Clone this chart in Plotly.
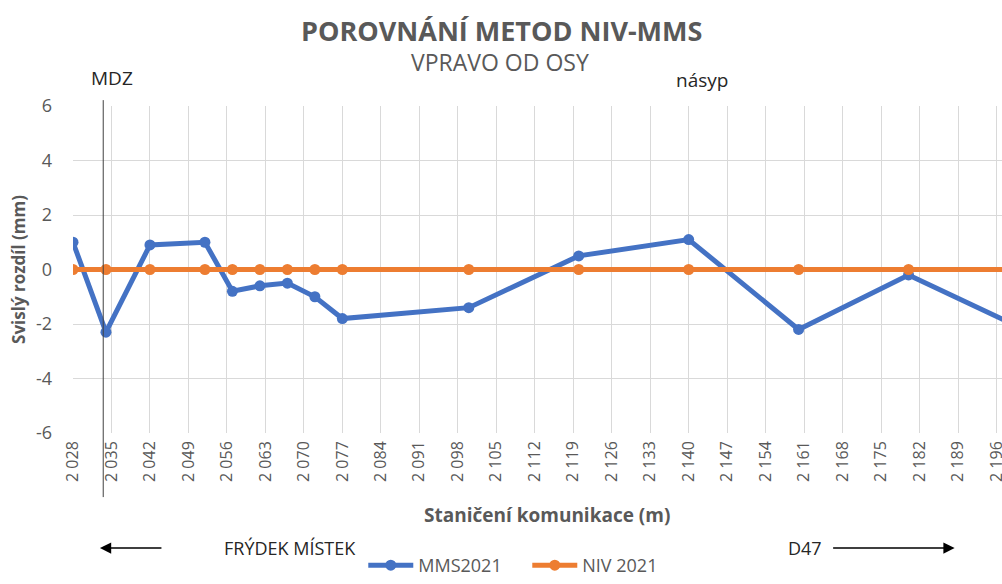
import plotly.graph_objects as go

# stanice (m) a svisle rozdily (mm)
stations = [2028, 2034, 2042, 2052, 2057, 2062, 2067, 2072, 2077, 2100, 2120, 2140, 2160, 2180, 2200]
mms_2021 = [1.0, -2.3, 0.9, 1.0, -0.8, -0.6, -0.5, -1.0, -1.8, -1.4, 0.5, 1.1, -2.2, -0.2, -2.1]
niv_2021 = [0, 0, 0, 0, 0, 0, 0, 0, 0, 0, 0, 0, 0, 0, 0]

mdz_station = 2033.5
x_start, x_end, x_step = 2028, 2197, 7
y_ticks = [-6, -4, -2, 0, 2, 4, 6]
y_tick_labels = ["-6", "-4", "-2", "0", "2", "4", "6"]

grey = "#595959"
dark = "#262626"
font = "Open Sans"

fig = go.Figure()
fig.add_trace(go.Scatter(
    x=stations, y=mms_2021, name="MMS2021", mode="lines+markers",
    line=dict(color="#4472C4", width=5), marker=dict(size=11, color="#4472C4")))
fig.add_trace(go.Scatter(
    x=stations, y=niv_2021, name="NIV 2021", mode="lines+markers",
    line=dict(color="#ED7D31", width=5), marker=dict(size=11, color="#ED7D31")))

fig.update_layout(
    width=1002, height=584,
    margin=dict(l=73, r=0, t=106, b=151),
    plot_bgcolor="white", paper_bgcolor="white",
    separators=", ",
    font=dict(family=font, color=grey),
    showlegend=True,
    legend=dict(orientation="h", x=0.489, xanchor="center", y=-0.4618, yanchor="bottom",
                font=dict(size=18, color=grey), tracegroupgap=0,
                itemwidth=45, entrywidth=104),
)

fig.update_xaxes(
    range=[x_start, x_end], tickmode="linear", tick0=x_start, dtick=x_step,
    separatethousands=True, tickangle=-90, automargin=False,
    showgrid=True, gridcolor="#D9D9D9", gridwidth=1, zeroline=False,
    showline=False, ticks="", tickfont=dict(size=16, color=grey),
    ticklabelstandoff=4, ticklabeloverflow="allow")
fig.update_yaxes(
    range=[-6, 6], tickvals=y_ticks, ticktext=y_tick_labels, automargin=False,
    showgrid=True, gridcolor="#D9D9D9", gridwidth=1, zeroline=False,
    showline=False, ticks="", tickfont=dict(size=18, color=grey),
    ticklabelstandoff=20,
    title=dict(text="<b>Svislý rozdíl (mm)</b>", font=dict(size=17, color=grey), standoff=5))

# nadpisy
fig.add_annotation(text="<b>POROVNÁNÍ METOD NIV-MMS</b>", xref="paper", yref="paper",
                   x=0.461, y=1.232, xanchor="center", yanchor="middle",
                   showarrow=False, font=dict(size=27, color=grey))
fig.add_annotation(text="VPRAVO OD OSY", xref="paper", yref="paper",
                   x=0.4596, y=1.135, xanchor="center", yanchor="middle",
                   showarrow=False, font=dict(size=23, color=grey))

# svisla cara MDZ
fig.add_shape(type="line", xref="x", yref="paper", x0=mdz_station, x1=mdz_station,
              y0=-0.196, y1=1.018, line=dict(color="#404040", width=1))

fig.add_annotation(text="MDZ", xref="x", yref="paper", x=2035.1, y=1.086,
                   xanchor="center", yanchor="middle",
                   showarrow=False, font=dict(size=19, color=dark))
fig.add_annotation(text="násyp", xref="x", yref="paper", x=2142.5, y=1.08,
                   xanchor="center", yanchor="middle",
                   showarrow=False, font=dict(size=19, color=dark))
fig.add_annotation(text="<b>Staničení komunikace (m)</b>", xref="paper", yref="paper",
                   x=0.510, y=-0.251, xanchor="center", yanchor="middle",
                   showarrow=False, font=dict(size=19, color=grey))

# smer: Frydek-Mistek <- -> D47
fig.add_annotation(text="", xref="paper", yref="paper", x=0.029, y=-0.352,
                   ax=63, ay=0, showarrow=True, arrowhead=2, arrowsize=1.5,
                   arrowwidth=1.5, arrowcolor="#000000")
fig.add_annotation(text="FRÝDEK MÍSTEK", xref="paper", yref="paper", x=0.2336, y=-0.352,
                   xanchor="center", yanchor="middle",
                   showarrow=False, font=dict(size=18, color=dark))
fig.add_annotation(text="", xref="paper", yref="paper", x=0.949, y=-0.352,
                   ax=-123, ay=0, showarrow=True, arrowhead=2, arrowsize=1.5,
                   arrowwidth=1.5, arrowcolor="#000000")
fig.add_annotation(text="D47", xref="paper", yref="paper", x=0.788, y=-0.352,
                   xanchor="center", yanchor="middle",
                   showarrow=False, font=dict(size=18, color=dark))

# bez okraje stranky a bez modebaru, aby graf presne vyplnil okno
fig.write_html("out.html", config={"displayModeBar": False},
               post_script="document.body.style.margin='0';")
